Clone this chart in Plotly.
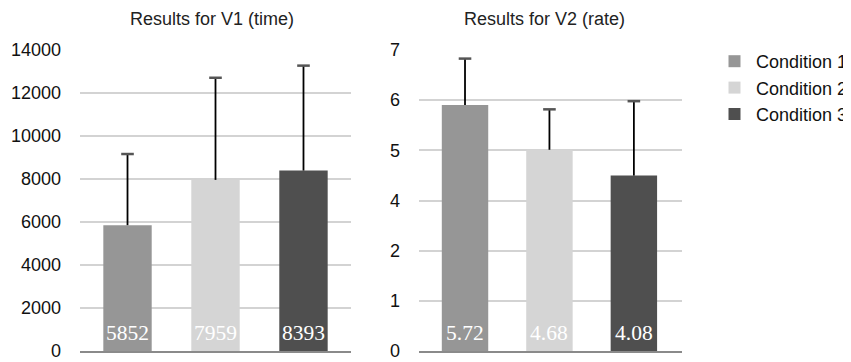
import plotly.graph_objects as go

conditions = ["Condition 1", "Condition 2", "Condition 3"]
colors = ["#969696", "#d5d5d5", "#4f4f4f"]

v1_values = [5852, 7959, 8393]
v1_errors = [3310, 4750, 4880]
v1_labels = ["5852", "7959", "8393"]
v1_tickvals = [0, 2000, 4000, 6000, 8000, 10000, 12000, 14000]
v1_ticktext = ["0", "2000", "4000", "6000", "8000", "10000", "12000", "14000"]

v2_values = [5.72, 4.68, 4.08]
v2_errors = [1.08, 0.94, 1.73]
v2_labels = ["5.72", "4.68", "4.08"]
v2_tickvals = [0, 7 / 6, 14 / 6, 3.5, 28 / 6, 35 / 6, 7]
v2_ticktext = ["0", "1", "2", "4", "5", "6", "7"]

W, H = 851, 362
OFF = 8  # page body margin in the rendered html


def px(x):
    return (x - OFF) / W


def py(y):
    return 1 - (y - OFF) / H


fig = go.Figure()

for i, cond in enumerate(conditions):
    for ax, vals, errs in (("", v1_values, v1_errors), ("2", v2_values, v2_errors)):
        fig.add_trace(go.Bar(
            x=[cond], y=[vals[i]], width=0.55,
            xaxis="x" + ax, yaxis="y" + ax,
            name=cond, legendgroup=cond, showlegend=(ax == ""),
            marker=dict(color=colors[i], line=dict(width=0)),
            error_y=dict(type="data", symmetric=False, array=[errs[i]], arrayminus=[0],
                         color="black", thickness=1.8, width=0),
            hoverinfo="skip",
        ))

# error bar caps (top only)
for ax, vals, errs in (("", v1_values, v1_errors), ("2", v2_values, v2_errors)):
    fig.add_trace(go.Scatter(
        x=conditions, y=[v + e for v, e in zip(vals, errs)],
        xaxis="x" + ax, yaxis="y" + ax, mode="markers", showlegend=False,
        marker=dict(symbol="line-ew", size=9, line=dict(width=2.5, color="#555")),
        hoverinfo="skip",
    ))

annotations = []
for ax, labs in (("", v1_labels), ("2", v2_labels)):
    for cond, lab in zip(conditions, labs):
        annotations.append(dict(
            text=lab, x=cond, y=0, xref="x" + ax, yref="y" + ax,
            xanchor="center", yanchor="middle", yshift=18, showarrow=False,
            font=dict(family="Liberation Serif", size=21.5, color="white")))

for txt, cx in (("Results for V1 (time)", 212), ("Results for V2 (rate)", 544)):
    annotations.append(dict(
        text=txt, x=px(cx), y=py(19), xref="paper", yref="paper",
        xanchor="center", yanchor="middle", showarrow=False,
        font=dict(family="Liberation Sans", size=18, color="#222")))

ydom = [py(351), py(50)]
common_x = dict(showticklabels=False, ticks="", showgrid=False, showline=True,
                linecolor="#8a8a8a", linewidth=2, zeroline=False, fixedrange=True,
                automargin=False)
common_y = dict(showgrid=True, gridcolor="#d3d3d3", gridwidth=2, zeroline=False,
                ticks="", showline=False, ticklabelstandoff=18, automargin=False,
                tickfont=dict(family="Liberation Sans", size=18, color="#111"))

fig.update_layout(
    width=W, height=H,
    margin=dict(l=0, r=0, t=0, b=0, autoexpand=False),
    paper_bgcolor="white", plot_bgcolor="white",
    barmode="relative",
    showlegend=True,
    legend=dict(x=px(713), y=py(43), xanchor="left", yanchor="top",
                font=dict(family="Liberation Sans", size=18, color="#111"),
                tracegroupgap=0, itemwidth=33, bgcolor="rgba(0,0,0,0)"),
    xaxis=dict(domain=[px(80), px(351)], anchor="y", range=[-0.54, 2.54], **common_x),
    xaxis2=dict(domain=[px(419), px(682)], anchor="y2", range=[-0.545, 2.57], **common_x),
    yaxis=dict(domain=ydom, anchor="x", range=[0, 14000],
               tickvals=v1_tickvals, ticktext=v1_ticktext, **common_y),
    yaxis2=dict(domain=ydom, anchor="x2", range=[0, 7],
                tickvals=v2_tickvals, ticktext=v2_ticktext, **common_y),
    annotations=annotations,
)

fig.write_html("out.html")
